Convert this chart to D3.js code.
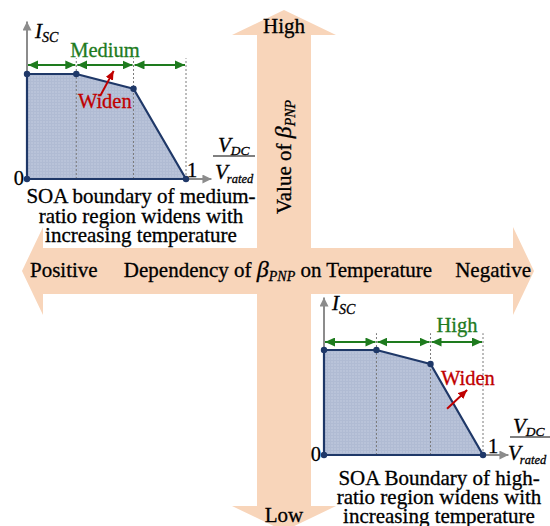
<!DOCTYPE html>
<html><head><meta charset="utf-8">
<script src="https://cdn.jsdelivr.net/npm/d3@7"></script>
<style>body{margin:0;background:#fff}svg{display:block}text{stroke:currentColor;stroke-width:0.3px}</style>
</head><body><svg id="c" width="550" height="526" font-family="'Liberation Serif', Tinos, 'Times New Roman', Times, 'DejaVu Serif', serif"></svg>
<script>
// ---- data ----
const directionLabels = ["High", "Low", "Positive", "Negative"];
const soaX1 = [0, 0, 0.31, 0.67, 1];       // chart 1 (medium ratio) boundary, V_DC/V_rated
const soaY1 = [0, 1, 1, 0.86, 0];          // I_SC (normalised)
const soaX2 = [0, 0, 0.33, 0.67, 1];       // chart 2 (high ratio)
const soaY2 = [0, 1, 1, 0.867, 0];
const regionLabels = ["Medium", "High"];
const captions1 = ["SOA boundary of medium-", "ratio region widens with", "increasing temperature"];
const captions2 = ["SOA Boundary of high-", "ratio region widens with", "increasing temperature"];

const svg = d3.select("#c");
const peach = "#F8D5BA", navy = "#1F3868", green = "#1E7B1E", red = "#C00000", gray = "#8C8C8C";

// fill texture
const defs = svg.append("defs");
const pat = defs.append("pattern").attr("id", "tex").attr("width", 3).attr("height", 3).attr("patternUnits", "userSpaceOnUse");
pat.append("rect").attr("width", 3).attr("height", 3).attr("fill", "#B9C3D9");
pat.append("rect").attr("width", 3).attr("height", 1).attr("fill", "#B0BBD3");
pat.append("rect").attr("width", 1).attr("height", 3).attr("fill", "#B0BBD3");

function marker(id, color, w, h) {
  defs.append("marker").attr("id", id).attr("viewBox", `0 0 ${w} ${h}`)
    .attr("refX", w).attr("refY", h / 2).attr("markerWidth", w).attr("markerHeight", h)
    .attr("markerUnits", "userSpaceOnUse").attr("orient", "auto-start-reverse")
    .append("path").attr("d", `M0,0L${w},${h/2}L0,${h}Z`).attr("fill", color);
}
marker("ag", green, 10, 9);
marker("ax", gray, 9, 9);
marker("ar", red, 9, 8);

// ---- big cross arrows ----
const cx = 284, cy = 271, vHalf = 27, hHalf = 23;
const vArrow = [[cx - vHalf, 35], [cx - 52, 35], [cx, 10], [cx + 52, 35], [cx + vHalf, 35],
  [cx + vHalf, 506], [cx + 52, 506], [cx, 531], [cx - 52, 506], [cx - vHalf, 506]];
const hArrow = [[43, cy - hHalf], [43, cy - 44], [22, cy], [43, cy + 44], [43, cy + hHalf],
  [513, cy + hHalf], [513, cy + 44], [534, cy], [513, cy - 44], [513, cy - hHalf]];
[vArrow, hArrow].forEach(p => svg.append("path").attr("d", d3.line()(p) + "Z").attr("fill", peach));

const big = 21;
function txt(sel, color) { return sel.append("text").attr("fill", color || "#000").style("color", color || "#000"); }
txt(svg).attr("x", cx).attr("y", 33).attr("text-anchor", "middle").attr("font-size", big).text(directionLabels[0]);
txt(svg).attr("x", cx).attr("y", 522).attr("text-anchor", "middle").attr("font-size", big).text(directionLabels[1]);
txt(svg).attr("x", 30).attr("y", 277).attr("font-size", big).text(directionLabels[2]);
txt(svg).attr("x", 531).attr("y", 277).attr("text-anchor", "end").attr("font-size", big).text(directionLabels[3]);

const dep = txt(svg).attr("x", 278).attr("y", 277).attr("text-anchor", "middle").attr("font-size", big);
dep.append("tspan").text("Dependency of ");
dep.append("tspan").attr("font-style", "italic").attr("font-size", 24).text("β");
dep.append("tspan").attr("font-style", "italic").attr("font-size", 14).attr("dy", 4).text("PNP");
dep.append("tspan").attr("dy", -4).text(" on Temperature");

const val = txt(svg).attr("transform", "translate(291,157) rotate(-90)").attr("text-anchor", "middle").attr("font-size", big);
val.append("tspan").text("Value of ");
val.append("tspan").attr("font-style", "italic").attr("font-size", 24).text("β");
val.append("tspan").attr("font-style", "italic").attr("font-size", 14).attr("dy", 4).text("PNP");

// ---- SOA mini charts ----
function soa(o) {
  const x = d3.scaleLinear([0, 1], [o.x0, o.x0 + 159]);
  const y = d3.scaleLinear([0, 1], [o.y0, o.y0 - 105]);
  const g = svg.append("g");
  const pts = o.xs.map((v, i) => [x(v), y(o.ys[i])]);
  g.append("path").attr("d", d3.line()(pts) + "Z").attr("fill", "url(#tex)");
  // dotted verticals
  [o.xs[2], o.xs[3], 1].forEach(v => {
    g.append("line").attr("x1", x(v)).attr("x2", x(v)).attr("y1", y(0)).attr("y2", y(o.dashTop))
      .attr("stroke", "#7a7a7a").attr("stroke-width", 1).attr("stroke-dasharray", "2,2");
  });
  // axes
  g.append("line").attr("x1", x(0)).attr("x2", x(0)).attr("y1", y(0)).attr("y2", y(1.5))
    .attr("stroke", gray).attr("stroke-width", 2).attr("marker-end", "url(#ax)");
  g.append("line").attr("x1", x(0)).attr("x2", x(1.16)).attr("y1", y(0)).attr("y2", y(0))
    .attr("stroke", gray).attr("stroke-width", 2).attr("marker-end", "url(#ax)");
  // boundary
  g.append("path").attr("d", d3.line()(pts) + "Z").attr("fill", "none").attr("stroke", navy).attr("stroke-width", 2.2).attr("stroke-linejoin", "round");
  g.selectAll("circle").data(pts).join("circle").attr("cx", d => d[0]).attr("cy", d => d[1]).attr("r", 3.2).attr("fill", navy);
  // green double arrows
  const bounds = [0, o.xs[2], o.xs[3], 1];
  for (let i = 0; i < 3; i++) {
    g.append("line").attr("x1", x(bounds[i]) + 1).attr("x2", x(bounds[i + 1]) - 1).attr("y1", y(o.arrowY)).attr("y2", y(o.arrowY))
      .attr("stroke", green).attr("stroke-width", 2).attr("marker-start", "url(#ag)").attr("marker-end", "url(#ag)");
  }
  txt(g, green).attr("x", x(o.label[0])).attr("y", y(o.label[1])).attr("text-anchor", "middle")
    .attr("font-size", 20.5).text(o.labelText);
  // widen
  txt(g, red).attr("x", x(o.widen[0])).attr("y", y(o.widen[1])).attr("font-size", 20.5).text("Widen");
  g.append("line").attr("x1", x(o.wa[0])).attr("y1", y(o.wa[1])).attr("x2", x(o.wa[2])).attr("y2", y(o.wa[3]))
    .attr("stroke", red).attr("stroke-width", 2).attr("marker-end", "url(#ar)");
  // axis labels
  const isc = txt(g).attr("x", x(0) + 8).attr("y", o.y0 + o.iscDy).attr("font-size", 21).attr("font-style", "italic");
  isc.append("tspan").text("I");
  isc.append("tspan").attr("font-size", 14).attr("dy", 4).text("SC");
  txt(g).attr("x", x(0) - 3).attr("y", y(0) + 6).attr("text-anchor", "end").attr("font-size", 20.5).text("0");
  txt(g).attr("x", x(1) + o.oneDx).attr("y", y(0) - 2).attr("font-size", 20.5).text("1");
  const fy = o.y0 + o.fracDy, fx = x(0) + 186;
  g.append("line").attr("x1", fx).attr("x2", fx + o.fracW).attr("y1", fy).attr("y2", fy).attr("stroke", "#000").attr("stroke-width", 1);
  const num = txt(g).attr("x", fx + o.numDx).attr("y", fy - 4).attr("font-size", 21).attr("font-style", "italic");
  num.append("tspan").text("V");
  num.append("tspan").attr("font-size", 13.5).attr("dy", 3).text("DC");
  const den = txt(g).attr("x", fx + o.denDx).attr("y", fy + 23).attr("font-size", 21).attr("font-style", "italic");
  den.append("tspan").text("V");
  den.append("tspan").attr("font-size", 12.5).attr("dy", 4).attr("dx", -1).text("rated");
  // caption
  o.caption.forEach((t, i) => txt(g).attr("x", o.capX).attr("y", o.capY + i * o.capGap)
    .attr("text-anchor", "middle").attr("font-size", 21).text(t));
}

soa({x0: 27, y0: 179, xs: soaX1, ys: soaY1, dashTop: 1.15, arrowY: 1.086, label: [0.49, 1.16], labelText: regionLabels[0],
  widen: [0.32, 0.676], wa: [0.46, 0.79, 0.545, 1.03], iscDy: -141, fracDy: -23, fracW: 42, numDx: 5, denDx: 2, oneDx: 1,
  caption: captions1, capX: 141, capY: 203, capGap: 19.5});
soa({x0: 324, y0: 455, xs: soaX2, ys: soaY2, dashTop: 1.16, arrowY: 1.076, label: [0.836, 1.17], labelText: regionLabels[1],
  widen: [0.736, 0.667], wa: [0.774, 0.44, 0.90, 0.62], iscDy: -145, fracDy: -18, fracW: 40, numDx: 3, denDx: -2, oneDx: 5,
  caption: captions2, capX: 439, capY: 485, capGap: 19});
</script></body></html>
